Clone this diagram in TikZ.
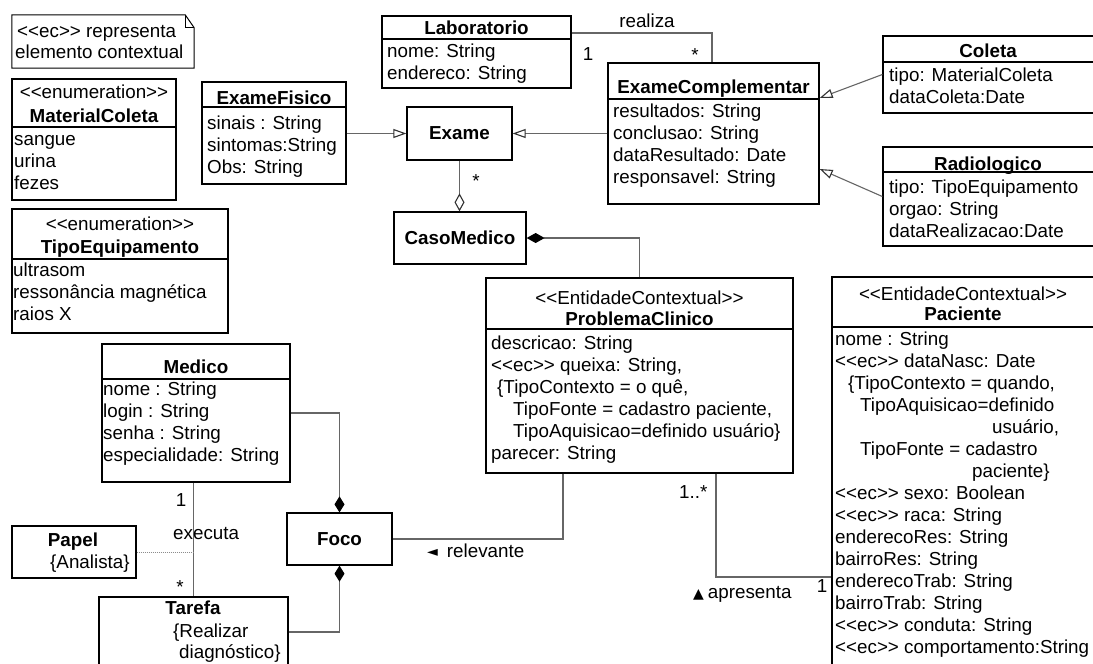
\documentclass[tikz,border=0pt]{standalone}
\usepackage{fontspec}
\newfontfamily\uf{Liberation Sans}
\newfontfamily\symf{DejaVu Sans}
\usetikzlibrary{arrows.meta,fit}
\newcommand\attrlist[4]{\foreach \attrline [count=\i] in {#4} {\node[txt] (#1\i) at (#2,{#3+22*(\i-1)}) {\attrline};}}
\begin{document}
\begin{tikzpicture}[x=1pt,y=-1pt,
  every node/.style={font=\uf\fontsize{18.8pt}{22pt}\selectfont, inner sep=0pt},
  umlbox/.style={draw=black, line width=1.3pt},
  sepline/.style={draw=black, line width=1.1pt},
  txt/.style={anchor=base west},
  ctxt/.style={anchor=base},
  conn/.style={draw=black!60, line width=1.1pt},
  gen/.style={conn, -{Triangle[open, length=13pt, width=9pt, color=black!80]}},
  agg/.style={conn, -{Diamond[open, length=18pt, width=10pt, color=black!80]}},
  comp/.style={conn, -{Diamond[length=18pt, width=10pt, color=black]}},
  cmp2/.style={conn, -{Diamond[length=16pt, width=10pt, color=black]}},
]
\useasboundingbox[fill=white] (0,0) rectangle (1093,664);

% note
\node[fit={(12,15) (194,68)}] (note) {};
\draw[line width=1pt] (note.north west) -- ([xshift=-9pt]note.north east) -- ([yshift=-13pt]note.north east) -- (note.south east) -- (note.south west) -- cycle;
\draw[line width=1pt] ([xshift=-9pt]note.north east) -- ([xshift=-9pt,yshift=-13pt]note.north east) -- ([yshift=-13pt]note.north east);
\node[txt] (note1) at (17,37) {<<ec>> representa};
\node[txt] (note2) at (15,58) {elemento contextual};

% MaterialColeta
\node[umlbox, fit={(12,79) (176,200)}] (matcol) {};
\draw[sepline] (12,127) -- (176,127);
\node[ctxt] (matcolst) at (94,98) {<<enumeration>>};
\node[ctxt] (matcolt) at (94,122) {\bfseries MaterialColeta};
\attrlist{matcola}{14}{145}{sangue,urina,fezes}

% TipoEquipamento
\node[umlbox, fit={(12,209) (228,333)}] (tipeq) {};
\draw[sepline] (12,259) -- (228,259);
\node[ctxt] (tipeqst) at (120,230) {<<enumeration>>};
\node[ctxt] (tipeqt) at (120,253) {\bfseries TipoEquipamento};
\attrlist{tipeqa}{13}{276}{ultrasom,ressonância magnética,raios X}

% ExameFisico
\node[umlbox, fit={(202,82) (346,184)}] (exfis) {};
\draw[sepline] (202,107) -- (346,107);
\node[ctxt] (exfist) at (274,104) {\bfseries ExameFisico};
\attrlist{exfisa}{207}{129}{sinais : String,sintomas:String,Obs: String}

% Laboratorio
\node[umlbox, fit={(382,16) (571,88)}] (lab) {};
\draw[sepline] (382,39) -- (571,39);
\node[ctxt] (labt) at (476.5,34) {\bfseries Laboratorio};
\attrlist{laba}{387}{57}{nome: String,endereco: String}

% Exame, CasoMedico, Foco
\node[umlbox, minimum width=105pt, minimum height=53pt] (exame) at (459.5,133.5) {\bfseries Exame};
\node[umlbox, minimum width=132pt, minimum height=52pt] (caso) at (460,238) {\bfseries CasoMedico};
\node[umlbox, minimum width=105pt, minimum height=52pt] (foco) at (339.5,539) {\bfseries Foco};

% ExameComplementar
\node[umlbox, fit={(608,63) (819,204)}] (excomp) {};
\draw[sepline] (608,99) -- (819,99);
\node[ctxt] (excompt) at (713.5,93) {\bfseries ExameComplementar};
\attrlist{excompa}{613}{117}{resultados: String,conclusao: String,dataResultado: Date,responsavel: String}

% Coleta
\node[umlbox, fit={(883,36) (1094,113)}] (coleta) {};
\draw[sepline] (883,62) -- (1094,62);
\node[ctxt] (coletat) at (988,57) {\bfseries Coleta};
\attrlist{coletaa}{889}{81}{tipo: MaterialColeta,dataColeta:Date}

% Radiologico
\node[umlbox, fit={(883,147) (1094,246)}] (radio) {};
\draw[sepline] (883,172) -- (1094,172);
\node[ctxt] (radiot) at (988,170) {\bfseries Radiologico};
\attrlist{radioa}{889}{193}{tipo: TipoEquipamento,orgao: String,dataRealizacao:Date}

% ProblemaClinico
\node[umlbox, fit={(486,278) (793,473)}] (prob) {};
\draw[sepline] (486,329) -- (793,329);
\node[ctxt] (probst) at (639.5,304) {<<EntidadeContextual>>};
\node[ctxt] (probt) at (639.5,325) {\bfseries ProblemaClinico};
\node[txt] (proba1) at (491,349) {descricao: String};
\node[txt] (proba2) at (491,371) {<<ec>> queixa: String,};
\node[txt] (proba3) at (497,393) {\{TipoContexto = o quê,};
\node[txt] (proba4) at (513,415) {TipoFonte = cadastro paciente,};
\node[txt] (proba5) at (513,437) {TipoAquisicao=definido usuário\}};
\node[txt] (proba6) at (491,459) {parecer: String};

% Paciente
\node[umlbox, fit={(832,277) (1094,680)}] (pac) {};
\draw[sepline] (832,327) -- (1094,327);
\node[ctxt] (pacst) at (963,300) {<<EntidadeContextual>>};
\node[ctxt] (pact) at (963,320) {\bfseries Paciente};
\node[txt] (paca1) at (835,345) {nome : String};
\node[txt] (paca2) at (835,367) {<<ec>> dataNasc: Date};
\node[txt] (paca3) at (848,389) {\{TipoContexto = quando,};
\node[txt] (paca4) at (860,411) {TipoAquisicao=definido};
\node[txt] (paca5) at (992,433) {usuário,};
\node[txt] (paca6) at (860,455) {TipoFonte = cadastro};
\node[txt] (paca7) at (972,477) {paciente\}};
\attrlist{pacb}{835}{499}{<<ec>> sexo: Boolean,<<ec>> raca: String,enderecoRes: String,bairroRes: String,enderecoTrab: String,bairroTrab: String,<<ec>> conduta: String,<<ec>> comportamento:String}

% Medico
\node[umlbox, fit={(102,344) (290,482)}] (med) {};
\draw[sepline] (102,379) -- (290,379);
\node[ctxt] (medt) at (196,373) {\bfseries Medico};
\attrlist{meda}{103}{395}{nome : String,login : String,senha : String,especialidade: String}

% Papel
\node[umlbox, fit={(12,526) (136,578)}] (papel) {};
\node[ctxt] (papelt) at (73,546) {\bfseries Papel};
\node[txt] (papela) at (50,568) {\{Analista\}};

% Tarefa
\node[umlbox, fit={(99,597) (288,680)}] (tar) {};
\node[ctxt] (tart) at (193,614) {\bfseries Tarefa};
\node[txt] (tara1) at (173,637) {\{Realizar};
\node[txt] (tara2) at (179,658) {diagnóstico\}};

% connectors
\draw[gen] (exfis.east |- exame.center) -- (exame.west);
\draw[gen] (excomp.west |- exame.center) -- (exame.east);
\draw[gen] (coleta.west) -- ([yshift=35.5pt]excomp.east);
\draw[gen] (radio.west) -- ([yshift=-35.5pt]excomp.east);
\draw[conn] ([yshift=19pt]lab.east) -| ([xshift=-1.5pt]excomp.north);
\draw[agg] (exame.south) -- (exame.south |- caso.north);
\draw[comp] (prob.north) |- (caso.east);
\draw[conn] ([xshift=-76.5pt]prob.south) |- (foco.east);
\draw[conn] ([xshift=76.5pt]prob.south) |- ([yshift=-98.5pt]pac.west);
\draw[cmp2] (med.east) -| (foco.north);
\draw[cmp2] ([yshift=6.5pt]tar.east) -| (foco.south);
\draw[conn] (tar.north |- med.south) -- (tar.north);
\draw[draw=black!45, line width=1pt, densely dotted] (papel.east) -- (papel.east -| tar.north);

% labels
\node[ctxt] (lrealiza) at (647,27) {realiza};
\node[ctxt] (llab1) at (588,60) {1};
\node[ctxt] (llabs) at (695,61) {*};
\node[ctxt] (lexs) at (476,187) {*};
\node[txt] (lprob) at (679,498) {1..*};
\node[txt] (lapres) at (693,598) {{\symf\fontsize{14pt}{14pt}\selectfont ▲}\hspace{4pt}apresenta};
\node[ctxt] (lpac1) at (822,592) {1};
\node[txt] (lrel) at (427,557) {\raisebox{1pt}{\symf\fontsize{14pt}{14pt}\selectfont ◄}\hspace{9pt}relevante};
\node[ctxt] (lmed1) at (181,506) {1};
\node[txt] (lexec) at (173,539) {executa};
\node[ctxt] (ltars) at (180,593) {*};
\end{tikzpicture}
\end{document}
